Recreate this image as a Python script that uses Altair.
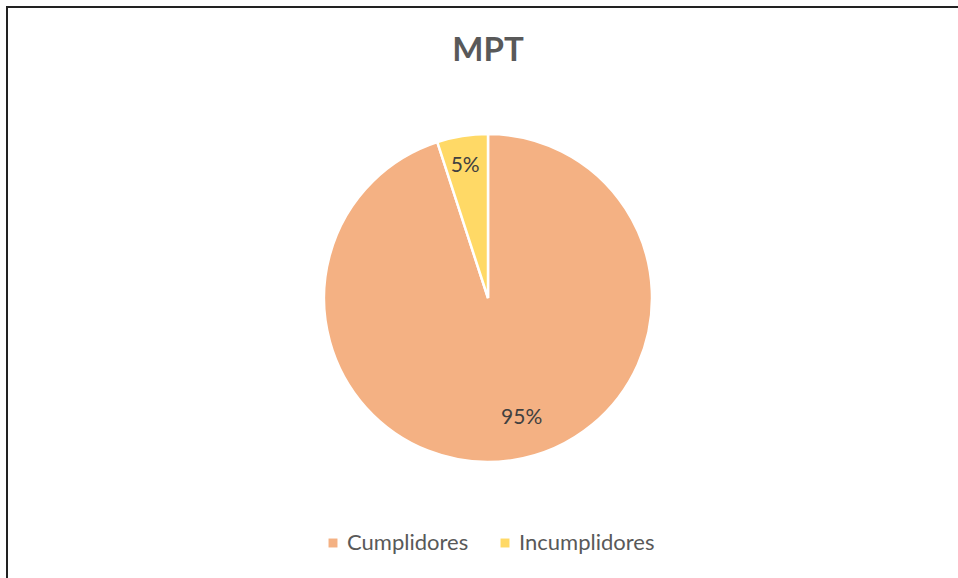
import altair as alt
import pandas as pd

categories = ["Cumplidores", "Incumplidores"]
values = [95, 5]
labels = ["95%", "5%"]
colors = ["#F4B183", "#FFD966"]

df = pd.DataFrame({"cat": categories, "val": values, "lab": labels, "order": [0, 1]})

W, H = 958, 578
CX, CY, R = 488, 298, 164

base = alt.Chart(df)

pie = base.mark_arc(stroke="white", strokeWidth=2.5, radius=R).encode(
    theta=alt.Theta("val:Q", stack=True),
    order=alt.Order("order:Q"),
    color=alt.Color(
        "cat:N",
        scale=alt.Scale(domain=categories, range=colors),
        sort=categories,
        legend=alt.Legend(
            title=None,
            orient="none",
            direction="horizontal",
            legendX=322,
            legendY=532,
            symbolType="square",
            symbolSize=80,
            symbolStrokeWidth=0,
            labelFont="Lato",
            labelFontSize=22,
            labelColor="#595959",
            columnPadding=25,
            labelOffset=3,
        ),
    ),
    x=alt.value(CX),
    y=alt.value(CY),
)

def label_layer(cat, radius, dx, dy):
    return base.transform_window(
        cum="sum(val)", sort=[alt.SortField("order")], frame=[None, 0]
    ).transform_calculate(
        mid="datum.cum - datum.val / 2"
    ).transform_filter(
        alt.datum.cat == cat
    ).mark_text(
        radius=radius, font="Lato", fontSize=21, color="#404040", dx=dx, dy=dy
    ).encode(
        theta=alt.Theta("mid:Q", stack=None, scale=alt.Scale(domain=[0, 100], range=[0, 6.283185307])),
        text="lab:N",
        x=alt.value(CX),
        y=alt.value(CY),
    )

lab_big = label_layer("Cumplidores", 126, 14, -4)
lab_small = label_layer("Incumplidores", 133, -2, -1)

title = alt.Chart(pd.DataFrame({"t": ["MPT"]})).mark_text(
    font="Lato", fontSize=33, fontWeight="bold", color="#595959"
).encode(text="t:N", x=alt.value(CX), y=alt.value(51))

border_top = alt.Chart(pd.DataFrame({"a": [0]})).mark_rule(color="#222222", strokeWidth=2).encode(
    x=alt.value(6), x2=alt.value(W), y=alt.value(7)
)
border_left = alt.Chart(pd.DataFrame({"a": [0]})).mark_rule(color="#222222", strokeWidth=2).encode(
    x=alt.value(7), y=alt.value(6), y2=alt.value(H)
)

chart = alt.layer(pie, lab_big, lab_small, title, border_top, border_left).properties(
    width=W, height=H, padding=0, autosize=alt.AutoSizeParams(type="none"), background="white"
).configure_view(stroke=None)

chart.save("out.html", embed_options={"renderer": "svg", "actions": False})
